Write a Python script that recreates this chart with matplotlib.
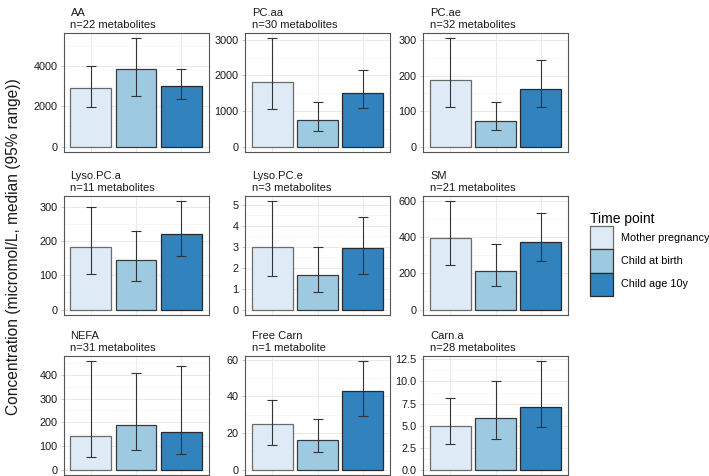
import matplotlib
matplotlib.use("Agg")
import matplotlib.pyplot as plt
from matplotlib.ticker import MultipleLocator, FormatStrFormatter
from matplotlib.patches import Patch
import numpy as np

plt.rcParams['font.family'] = ['Liberation Sans', 'DejaVu Sans']

# ---------------- data ----------------
time_points = ["Mother pregnancy", "Child at birth", "Child age 10y"]
colors = ["#DEEBF7", "#9ECAE1", "#3182BD"]

panels = ["AA", "PC.aa", "PC.ae", "Lyso.PC.a", "Lyso.PC.e", "SM", "NEFA", "Free Carn", "Carn.a"]
n_metabolites = [22, 30, 32, 11, 3, 21, 31, 1, 28]

aa_median = [2900, 3855, 2980]
aa_low = [1975, 2530, 2380]
aa_high = [3985, 5360, 3835]

pcaa_median = [1815, 750, 1510]
pcaa_low = [1045, 447, 1074]
pcaa_high = [3040, 1262, 2157]

pcae_median = [188, 73, 163]
pcae_low = [111, 47, 113]
pcae_high = [305, 125, 243]

lysoa_median = [183, 145, 220]
lysoa_low = [104, 84, 157]
lysoa_high = [299, 228, 315]

lysoe_median = [3.0, 1.66, 2.93]
lysoe_low = [1.6, 0.85, 1.70]
lysoe_high = [5.17, 2.99, 4.42]

sm_median = [396, 212, 370]
sm_low = [247, 128, 267]
sm_high = [596, 359, 531]

nefa_median = [143, 189, 157]
nefa_low = [54, 81, 64]
nefa_high = [457, 408, 438]

fcarn_median = [24.7, 16.2, 43.1]
fcarn_low = [13.2, 9.7, 29.0]
fcarn_high = [38.1, 27.5, 59.0]

carna_median = [4.95, 5.83, 7.06]
carna_low = [2.88, 3.49, 4.84]
carna_high = [8.1, 10.1, 12.28]

medians = [aa_median, pcaa_median, pcae_median, lysoa_median, lysoe_median,
           sm_median, nefa_median, fcarn_median, carna_median]
lows = [aa_low, pcaa_low, pcae_low, lysoa_low, lysoe_low,
        sm_low, nefa_low, fcarn_low, carna_low]
highs = [aa_high, pcaa_high, pcae_high, lysoa_high, lysoe_high,
         sm_high, nefa_high, fcarn_high, carna_high]
tick_steps = [2000, 1000, 100, 100, 1, 200, 100, 20, 2.5]

# ---------------- layout ----------------
W, H = 709, 476
fig = plt.figure(figsize=(W / 100, H / 100), dpi=100)

col_left = [63.5, 245, 423]
col_w = 145
row_top = [33, 196, 356]
row_h = 119

edge_cols = ["#6b6b6b", "#3a3a3a", "#2a2a2a"]

for i, name in enumerate(panels):
    r, c = divmod(i, 3)
    x0 = col_left[c] / W
    y0 = 1 - (row_top[r] + row_h) / H
    ax = fig.add_axes([x0, y0, col_w / W, row_h / H])
    med = np.array(medians[i], dtype=float)
    lo = np.array(lows[i], dtype=float)
    hi = np.array(highs[i], dtype=float)
    x = np.arange(1, 4)
    ax.bar(x, med, width=0.9, color=colors, edgecolor=edge_cols,
           linewidth=0.9, zorder=3)
    ax.errorbar(x, med, yerr=[med - lo, hi - med], fmt='none',
                ecolor="#333333", elinewidth=0.8, capsize=3.6,
                capthick=0.8, zorder=4)
    ymax = hi.max()
    ax.set_ylim(-0.05 * ymax, 1.05 * ymax)
    ax.set_xlim(0.4, 3.6)
    step = tick_steps[i]
    ax.yaxis.set_major_locator(MultipleLocator(step))
    ax.yaxis.set_minor_locator(MultipleLocator(step / 2))
    if i == 8:
        ax.yaxis.set_major_formatter(FormatStrFormatter('%.1f'))
    ax.set_xticks(x)
    ax.set_xticklabels([])
    ax.tick_params(axis='x', length=0)
    ax.tick_params(axis='y', which='major', length=2.5, width=0.5,
                   color='#b3b3b3', labelsize=7.8, labelcolor='#1a1a1a', pad=2)
    ax.tick_params(axis='y', which='minor', length=0)
    ax.grid(True, which='major', color='#e6e6e6', linewidth=0.6, zorder=0)
    ax.grid(True, which='minor', axis='y', color='#f2f2f2', linewidth=0.4, zorder=0)
    ax.set_axisbelow(True)
    for sp in ax.spines.values():
        sp.set_color('#555555')
        sp.set_linewidth(0.8)
    unit = "metabolite" if n_metabolites[i] == 1 else "metabolites"
    ax.text(7 / col_w, 1.025, f"{name}\nn={n_metabolites[i]} {unit}",
            transform=ax.transAxes, ha='left', va='bottom',
            fontsize=8, color='#1a1a1a', linespacing=1.3)

fig.text(14 / W, 1 - 247 / H, "Concentration (micromol/L, median (95% range))",
         rotation=90, ha='center', va='center', fontsize=11.2, color='#1a1a1a')

handles = [Patch(facecolor=colors[k], edgecolor=edge_cols[k], linewidth=0.9)
           for k in range(3)]
leg = fig.legend(handles, time_points, loc='upper left',
                 bbox_to_anchor=(590 / W, 1 - 212 / H), frameon=False,
                 title="Time point", title_fontsize=10, fontsize=7.8,
                 handlelength=2.15, handleheight=2.93, labelspacing=0,
                 handletextpad=0.75, borderpad=0, borderaxespad=0)
leg._legend_box.align = "left"

fig.savefig("out.png", dpi=100)
